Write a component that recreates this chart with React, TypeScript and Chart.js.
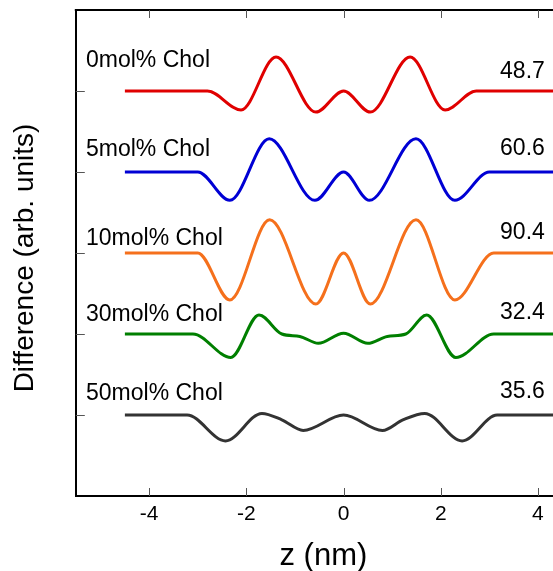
import React, { useEffect, useRef } from "react";
import { Chart, registerables } from "chart.js";

Chart.register(...registerables);

// ---- data (z in nm, difference in arb. units, relative to each baseline) ----
const seriesNames = ["0mol% Chol", "5mol% Chol", "10mol% Chol", "30mol% Chol", "50mol% Chol"];
const seriesValues = ["48.7", "60.6", "90.4", "32.4", "35.6"];
const seriesColors = ["#e00000", "#0000d4", "#f5701c", "#007f00", "#333333"];
const baselines = [4, 3, 2, 1, 0];

const z0 = [-4.5, -2.8, -2.11, -1.39, -0.57, 0, 0.55, 1.37, 2.09, 2.73, 5];
const d0 = [0, 0, -0.235, 0.42, -0.26, 0, -0.26, 0.42, -0.235, 0, 0];

const z5 = [-4.5, -3.0, -2.34, -1.53, -0.59, 0, 0.53, 1.49, 2.29, 3.0, 5];
const d5 = [0, 0, -0.35, 0.41, -0.35, 0, -0.35, 0.41, -0.35, 0, 0];

const z10 = [-4.5, -3.0, -2.34, -1.52, -0.57, 0, 0.55, 1.49, 2.29, 3.09, 5];
const d10 = [0, 0, -0.58, 0.41, -0.63, 0, -0.63, 0.41, -0.58, 0, 0];

const z30 = [-4.5, -3.1, -2.32, -1.74, -1.27, -0.9, -0.52, 0, 0.5, 0.9, 1.28, 1.71, 2.31, 3.09, 5];
const d30 = [0, 0, -0.29, 0.235, 0.0, -0.03, -0.115, 0.01, -0.115, -0.03, 0.0, 0.235, -0.29, 0, 0];

const z50 = [-4.5, -3.22, -2.43, -1.68, -1.27, -0.83, 0, 0.8, 1.22, 1.67, 2.44, 3.16, 5];
const d50 = [0, 0, -0.32, 0.02, -0.06, -0.19, 0, -0.19, -0.06, 0.02, -0.32, 0, 0];

const zSeries = [z0, z5, z10, z30, z50];
const dSeries = [d0, d5, d10, d30, d50];

// annotation anchors (data units)
const nameX = -5.3;
const nameY = [4.3, 3.2, 2.1, 1.16, 0.185];
const valueX = 3.22;
const valueY = [4.16, 3.21, 2.17, 1.18, 0.21];

const xTicks = [-4, -2, 0, 2, 4];
const yTicks = [0, 1, 2, 3, 4];
const xMin = -5.51;
const xMax = 4.68;
const yMin = -1;
const yMax = 5;

const FONT = '"Liberation Sans", Arial, sans-serif';

const decorPlugin = {
  id: "decor",
  afterDraw(chart: any) {
    const { ctx, chartArea, scales } = chart;
    const xs = scales.x;
    const ys = scales.y;
    ctx.save();
    // top border
    ctx.strokeStyle = "#000";
    ctx.lineWidth = 2;
    ctx.beginPath();
    ctx.moveTo(chartArea.left - 1, chartArea.top);
    ctx.lineTo(chartArea.right, chartArea.top);
    ctx.stroke();
    // inward ticks
    ctx.strokeStyle = "#555";
    ctx.lineWidth = 1;
    xTicks.forEach((v) => {
      const px = Math.round(xs.getPixelForValue(v)) + 0.5;
      ctx.beginPath();
      ctx.moveTo(px, chartArea.bottom);
      ctx.lineTo(px, chartArea.bottom - 8);
      ctx.moveTo(px, chartArea.top);
      ctx.lineTo(px, chartArea.top + 8);
      ctx.stroke();
    });
    yTicks.forEach((v) => {
      const py = Math.round(ys.getPixelForValue(v)) + 0.5;
      ctx.beginPath();
      ctx.moveTo(chartArea.left, py);
      ctx.lineTo(chartArea.left + 9, py);
      ctx.stroke();
    });
    // series labels and values
    ctx.fillStyle = "#000";
    ctx.font = `23px ${FONT}`;
    ctx.textBaseline = "alphabetic";
    ctx.textAlign = "left";
    seriesNames.forEach((n, i) => {
      ctx.fillText(n, xs.getPixelForValue(nameX), ys.getPixelForValue(nameY[i]));
      ctx.fillText(seriesValues[i], xs.getPixelForValue(valueX), ys.getPixelForValue(valueY[i]));
    });
    // axis titles
    ctx.font = `31px ${FONT}`;
    ctx.textAlign = "center";
    ctx.fillText("z (nm)", (chartArea.left + chartArea.right) / 2, 565);
    ctx.font = `28px ${FONT}`;
    ctx.translate(33, (chartArea.top + chartArea.bottom) / 2 + 5);
    ctx.rotate(-Math.PI / 2);
    ctx.fillText("Difference (arb. units)", 0, 0);
    ctx.restore();
  },
};

export default function App() {
  const ref = useRef<HTMLCanvasElement>(null);
  useEffect(() => {
    if (!ref.current) return;
    const datasets = seriesNames.map((name, i) => ({
      label: name,
      data: zSeries[i].map((z, k) => ({ x: z, y: dSeries[i][k] + baselines[i] })),
      borderColor: seriesColors[i],
      borderWidth: 3,
      pointRadius: 0,
      cubicInterpolationMode: "monotone" as const,
      fill: false,
    }));
    const chart = new Chart(ref.current, {
      type: "line",
      data: { datasets },
      options: {
        responsive: false,
        animation: false,
        layout: { padding: { top: 10, right: 9, left: 0, bottom: 0 } },
        plugins: { legend: { display: false }, tooltip: { enabled: false } },
        scales: {
          x: {
            type: "linear",
            min: xMin,
            max: xMax,
            afterBuildTicks: (s: any) => {
              s.ticks = xTicks.map((v) => ({ value: v }));
            },
            afterFit: (s: any) => {
              s.height = 75;
            },
            grid: { display: false, drawTicks: false },
            border: { display: true, color: "#000", width: 2 },
            ticks: {
              color: "#000",
              font: { family: FONT, size: 21 },
              padding: 6,
              maxRotation: 0,
              autoSkip: false,
              callback: (v: any) => String(v),
            },
          },
          y: {
            type: "linear",
            min: yMin,
            max: yMax,
            afterBuildTicks: (s: any) => {
              s.ticks = yTicks.map((v) => ({ value: v }));
            },
            afterFit: (s: any) => {
              s.width = 75.8;
            },
            grid: { display: false, drawTicks: false },
            border: { display: true, color: "#000", width: 2 },
            ticks: { display: false },
          },
        },
      },
      plugins: [decorPlugin],
    });
    return () => chart.destroy();
  }, []);
  return (
    <div style={{ position: "absolute", left: 0, top: 0, width: 553, height: 571, overflow: "hidden", background: "#fff" }}>
      <canvas ref={ref} width={580} height={571} style={{ display: "block" }} />
    </div>
  );
}
